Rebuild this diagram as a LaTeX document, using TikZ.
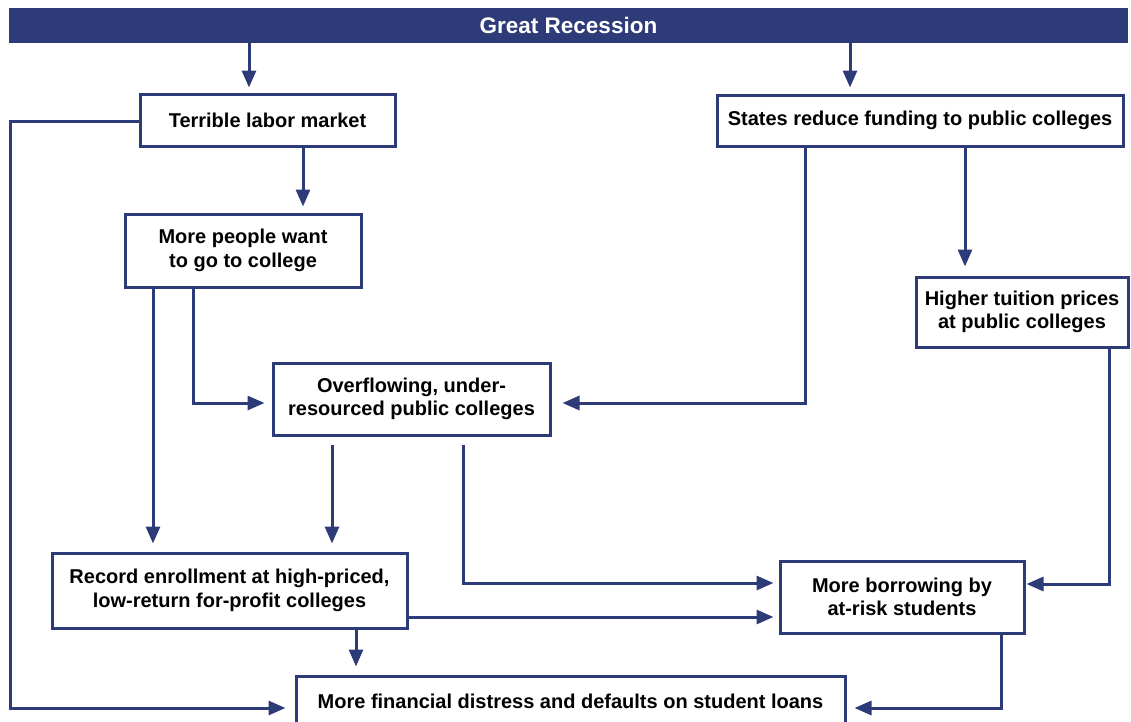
\documentclass[tikz,border=0pt]{standalone}
\usepackage{fontspec}
\setmainfont{Liberation Sans}
\usetikzlibrary{arrows.meta}
\definecolor{navy}{RGB}{45,59,120}
\tikzset{
	box/.style={draw=navy,line width=3pt,fill=white,inner sep=0pt,align=center,font=\fontsize{20}{23.5}\selectfont\bfseries},
	arr/.style={draw=navy,line width=3pt,-{Triangle[length=17pt,width=14pt]}},
}
\begin{document}
\begin{tikzpicture}[x=1pt,y=-1pt]
	\useasboundingbox (0,0) rectangle (1131,721);
	\node[fill=navy,minimum width=1119pt,minimum height=35pt,inner sep=0pt,text=white,font=\fontsize{22.5}{26}\selectfont\bfseries] (recession) at (568.5,25.5) {Great Recession};
	\node[box,minimum width=255pt,minimum height=52pt] (labor) at (267.5,120) {Terrible labor market};
	\node[box,minimum width=406pt,minimum height=51pt] (states) at (920,120.5) {States reduce funding to public colleges};
	\node[box,minimum width=236pt,minimum height=73pt] (want) at (243,250.5) {More people want\\to go to college};
	\node[box,minimum width=212pt,minimum height=70pt] (tuition) at (1022,312) {Higher tuition prices\\at public colleges};
	\node[box,minimum width=277pt,minimum height=72pt] (overflow) at (411.5,399) {Overflowing, under-\\resourced public colleges};
	\node[box,minimum width=355pt,minimum height=75pt] (record) at (229.5,590.5) {Record enrollment at high-priced,\\low-return for-profit colleges};
	\node[box,minimum width=244pt,minimum height=72pt] (borrow) at (902,597) {More borrowing by\\at-risk students};
	\node[box,minimum width=549pt,minimum height=50pt] (distress) at (570.5,701) {More financial distress and defaults on student loans};
	\coordinate (corner) at (10,708);
	\draw[arr,shorten >=5pt] (recession.south -| 249,0) -- (labor.north -| 249,0);
	\draw[arr,shorten >=6pt] (recession.south -| 850,0) -- (states.north -| 850,0);
	\draw[arr,shorten >=6pt] (labor.south -| 303,0) -- (want.north -| 303,0);
	\draw[arr,shorten >=9pt] (states.south -| 965,0) -- (tuition.north -| 965,0);
	\draw[arr,shorten >=11pt] (states.south -| 805,0) |- (overflow.east |- 0,403);
	\draw[arr,shorten >=7pt] (want.south -| 193,0) |- (overflow.west |- 0,403);
	\draw[arr,shorten >=8pt] (want.south -| 153,0) -- (record.north -| 153,0);
	\draw[arr,shorten <=8pt,shorten >=8pt] (overflow.south -| 332,0) -- (record.north -| 332,0);
	\draw[arr,shorten <=8pt,shorten >=5pt] (overflow.south -| 463,0) |- (borrow.west |- 0,583);
	\draw[arr,shorten >=5pt] (record.east |- 0,617) -- (borrow.west |- 0,617);
	\draw[arr,shorten >=1pt] (tuition.south -| 1109,0) |- (borrow.east |- 0,584);
	\draw[arr,shorten >=8pt] (record.south -| 356,0) -- (distress.north -| 356,0);
	\draw[arr,shorten >=8pt] (borrow.south -| 1001,0) |- (distress.east |- 0,708);
	\draw[arr,shorten >=9pt] (labor.west |- 0,121) -| (corner) -- (distress.west |- corner);
\end{tikzpicture}
\end{document}
